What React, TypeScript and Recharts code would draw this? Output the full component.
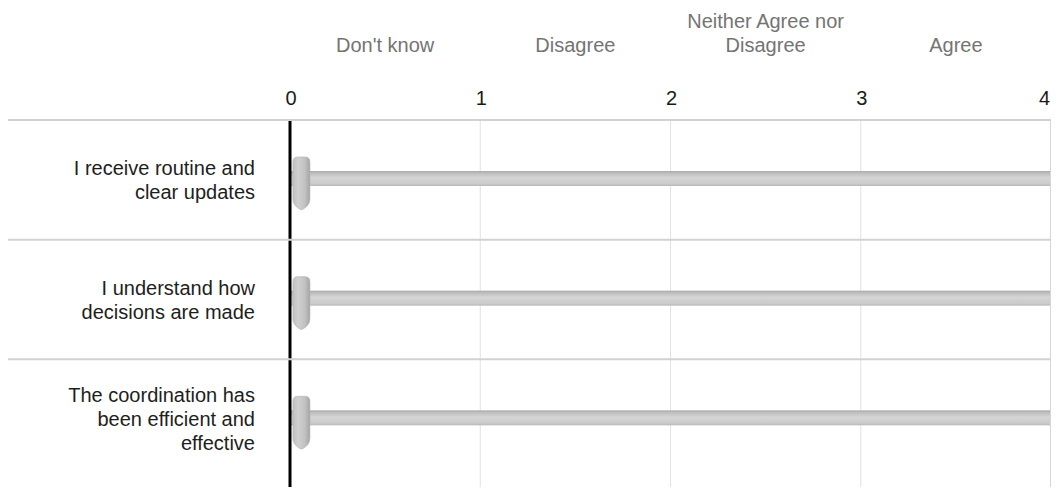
import React from 'react';
import { ComposedChart, Bar, XAxis, YAxis, CartesianGrid, ReferenceLine } from 'recharts';

const statements = [
  'I receive routine and\nclear updates',
  'I understand how\ndecisions are made',
  'The coordination has\nbeen efficient and\neffective',
];
const scaleMax = [4, 4, 4];
const responses = [0.06, 0.06, 0.06];
const scaleTicks = [0, 1, 2, 3, 4];
const scaleLabelPositions = [0.5, 1.5, 2.5, 3.5];
const scaleLabels = ["Don't know", 'Disagree', 'Neither Agree nor\nDisagree', 'Agree'];

const data = statements.map((s, i) => ({ statement: s, max: scaleMax[i], response: responses[i] }));

const FONT = '"Liberation Sans", Arial, sans-serif';
const W = 1051;
const H = 487;
const M = { top: 0, right: 8, bottom: 0, left: 0 };

const NumberTick = (props: any) => {
  const { x, y, payload } = props;
  const last = Number(payload?.value) === scaleTicks[scaleTicks.length - 1];
  return (
    <text
      x={last ? x - 1 : x + 1}
      y={y - 15}
      textAnchor={last ? 'end' : 'middle'}
      fontSize={20}
      fontFamily={FONT}
      fill="#1a1a1a"
    >
      {payload.value}
    </text>
  );
};

const HeaderTick = (props: any) => {
  const { x, y, payload } = props;
  const idx = scaleLabelPositions.indexOf(payload.value);
  const lines = (scaleLabels[idx] ?? '').split('\n');
  return (
    <text textAnchor="middle" fontSize={20} fontFamily={FONT} fill="#747474">
      {lines.map((l, i) => (
        <tspan key={i} x={x} y={y - 28 - (lines.length - 1 - i) * 24}>
          {l}
        </tspan>
      ))}
    </text>
  );
};

const RowTick = (props: any) => {
  const { x, y, payload } = props;
  const half = payload && typeof payload.offset === 'number' && payload.offset > 0 ? payload.offset : 60;
  const lines = String(payload.value).split('\n');
  const top = y - half;
  return (
    <g>
      <line x1={0} x2={W - M.right} y1={top} y2={top} stroke="#d2d2d2" strokeWidth={2} />
      <text textAnchor="end" fontSize={20} fontFamily={FONT} fill="#1e1e1e">
        {lines.map((l, i) => (
          <tspan key={i} x={x} y={y + (i - (lines.length - 1) / 2) * 24 + 7}>
            {l}
          </tspan>
        ))}
      </text>
    </g>
  );
};

const TrackShape = (props: any) => {
  const { x, y, width, height, index } = props;
  const id = `trackGrad${index}`;
  return (
    <g>
      <defs>
        <linearGradient id={id} x1="0" y1="0" x2="0" y2="1">
          <stop offset="0%" stopColor="#a9a9a9" />
          <stop offset="15%" stopColor="#bebebe" />
          <stop offset="45%" stopColor="#d5d5d5" />
          <stop offset="85%" stopColor="#cbcbcb" />
          <stop offset="100%" stopColor="#b8b8b8" />
        </linearGradient>
      </defs>
      <rect x={x} y={y - 1} width={width} height={height} fill={`url(#${id})`} />
    </g>
  );
};

const HandleShape = (props: any) => {
  const { x, y, width, height, index } = props;
  const cx = x + width;
  const cy = y + height / 2;
  const hw = 8.5;
  const top = cy - 23;
  const sideBottom = cy + 19;
  const tip = cy + 30;
  const r = 5;
  const id = `handleGrad${index}`;
  const d = [
    `M${cx - hw},${top + r}`,
    `Q${cx - hw},${top} ${cx - hw + r},${top}`,
    `L${cx + hw - r},${top}`,
    `Q${cx + hw},${top} ${cx + hw},${top + r}`,
    `L${cx + hw},${sideBottom}`,
    `Q${cx + hw},${sideBottom + 6} ${cx + 2},${tip - 1}`,
    `Q${cx},${tip + 0.5} ${cx - 2},${tip - 1}`,
    `Q${cx - hw},${sideBottom + 6} ${cx - hw},${sideBottom}`,
    'Z',
  ].join(' ');
  return (
    <g>
      <defs>
        <linearGradient id={id} x1="0" y1="0" x2="1" y2="0">
          <stop offset="0%" stopColor="#c0c0c0" />
          <stop offset="30%" stopColor="#d0d0d0" />
          <stop offset="70%" stopColor="#c2c2c2" />
          <stop offset="100%" stopColor="#a4a4a4" />
        </linearGradient>
      </defs>
      <path d={d} fill={`url(#${id})`} stroke="#b0b0b0" strokeWidth={0.6} strokeLinejoin="round" />
    </g>
  );
};

export default function App() {
  return (
    <div style={{ width: W, height: H, marginBottom: -8 }}>
      <ComposedChart width={W} height={H} data={data} layout="vertical" margin={M} style={{ overflow: 'visible' }}>
        <CartesianGrid vertical horizontal={false} stroke="#e2e2e2" />
        <XAxis
          type="number"
          domain={[0, 4]}
          ticks={scaleTicks}
          orientation="top"
          height={40}
          axisLine={false}
          tickLine={false}
          tickSize={0}
          tickMargin={0}
          interval={0}
          tick={NumberTick}
        />
        <XAxis
          xAxisId="hdr"
          type="number"
          domain={[0, 4]}
          ticks={scaleLabelPositions}
          orientation="top"
          height={72}
          axisLine={false}
          tickLine={false}
          tickSize={0}
          tickMargin={0}
          interval={0}
          allowDataOverflow
          tick={HeaderTick}
        />
        <YAxis
          dataKey="statement"
          type="category"
          width={282}
          tickSize={0}
          tickMargin={35}
          interval={0}
          tickLine={false}
          axisLine={{ stroke: '#000', strokeWidth: 3 }}
          padding={{ top: 0, bottom: 16 }}
          tick={RowTick}
        />
        <YAxis yAxisId="m" dataKey="statement" type="category" hide padding={{ top: 0, bottom: 16 }} />
        <ReferenceLine x={4} stroke="#d6d6d6" strokeWidth={2} />
        <Bar dataKey="max" barSize={15} shape={TrackShape} isAnimationActive={false} />
        <Bar dataKey="response" yAxisId="m" barSize={54} shape={HandleShape} isAnimationActive={false} />
      </ComposedChart>
    </div>
  );
}
